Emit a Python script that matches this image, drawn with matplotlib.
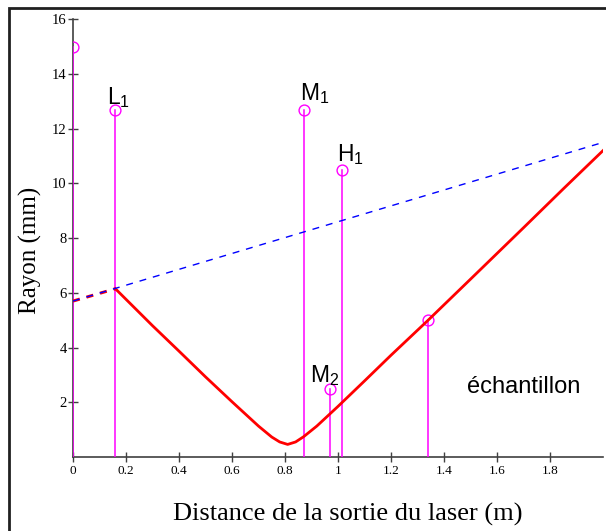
import matplotlib.pyplot as plt
from matplotlib.patches import Rectangle

plt.rcParams['mathtext.fontset'] = 'custom'
plt.rcParams['mathtext.rm'] = 'Liberation Sans'

# beam radius along the bench (m, mm)
beam_x = [0.16, 0.30, 0.40, 0.50, 0.60, 0.70, 0.75, 0.78, 0.81, 0.84, 0.87,
          0.92, 1.00, 1.10, 1.20, 1.34, 1.50, 1.70, 1.85, 2.00]
beam_r = [6.15, 4.80, 3.87, 2.93, 2.02, 1.13, 0.73, 0.55, 0.46, 0.55, 0.74,
          1.13, 1.85, 2.78, 3.72, 5.00, 6.50, 8.38, 9.80, 11.20]

# unfocused beam (divergence of the laser output)
free_x = [0.0, 2.0]
free_r = [5.7, 11.5]
entry_x = [0.0, 0.16]
entry_r = [5.7, 6.15]

# optical elements: position, marker height, label
elem_x = [0.0, 0.16, 0.87, 1.015, 0.97, 1.34]
elem_h = [15.0, 12.7, 12.7, 10.5, 2.5, 5.0]
elem_names = ['', r'$\mathregular{L_1}$', r'$\mathregular{M_1}$',
              r'$\mathregular{H_1}$', r'$\mathregular{M_2}$', u'échantillon']
label_pos = [None, (0.128, 12.9), (0.857, 13.05), (0.995, 10.8),
             (0.894, 2.75), (1.487, 2.34)]

xticks = [0, 0.2, 0.4, 0.6, 0.8, 1.0, 1.2, 1.4, 1.6, 1.8]
xticklabels = ['0', '0.2', '0.4', '0.6', '0.8', '1', '1.2', '1.4', '1.6', '1.8']
yticks = [2, 4, 6, 8, 10, 12, 14, 16]

fig = plt.figure(figsize=(6.06, 5.31), dpi=100)
ax = fig.add_axes([73 / 606, 1 - 457 / 531, 530 / 606, 437.7 / 531])

for x, h in zip(elem_x, elem_h):
    ax.plot([x, x], [0, h], color='#ff00ff', lw=1.1, zorder=3)
    ax.plot(x, h, 'o', mfc='none', mec='#ff00ff', ms=7.8, mew=1.0, zorder=3)

ax.plot(beam_x, beam_r, color='red', lw=2.0, zorder=4)
ax.plot(entry_x, entry_r, color='red', lw=2.2, ls=(0, (2.3, 2.3)), zorder=4)
ax.plot(free_x, free_r, color='blue', lw=1.0, ls=(0, (5, 5)), zorder=5)

for name, pos in zip(elem_names, label_pos):
    if pos is None:
        continue
    size = 16.5 if name.startswith('$') else 17
    ax.text(pos[0], pos[1], name, fontsize=size, family='Liberation Sans',
            ha='left', va='baseline')

ax.set_xlim(0, 2.0)
ax.set_ylim(0, 16)
ax.spines['top'].set_visible(False)
ax.spines['right'].set_visible(False)
for s in ('left', 'bottom'):
    ax.spines[s].set_color('#404040')
    ax.spines[s].set_linewidth(1.2)
ax.set_xticks(xticks)
ax.set_xticklabels(xticklabels, family='Liberation Serif', fontsize=9.5)
ax.set_yticks(yticks)
ax.set_yticklabels([str(v) for v in yticks], family='Liberation Serif', fontsize=10.5)
ax.tick_params(direction='inout', length=7, width=1, color='#404040', pad=1)
ax.tick_params(axis='x', pad=2)
ax.patch.set_visible(False)

fig.text(30 / 606, 1 - 250 / 531, 'Rayon (mm)', rotation=90, ha='center',
         va='center', family='Liberation Serif', fontsize=18)
fig.text(348 / 606, 1 - 514 / 531, 'Distance de la sortie du laser (m)',
         ha='center', va='center', family='Liberation Serif', fontsize=19)

# outer frame, right and bottom edges run off the canvas
fig.patches.append(Rectangle((8.7 / 606, -0.1), 1.2, 1.1 - 8 / 531,
                             transform=fig.transFigure, fill=False,
                             edgecolor='#202020', lw=2.0))

fig.savefig('out.png', dpi=100)
